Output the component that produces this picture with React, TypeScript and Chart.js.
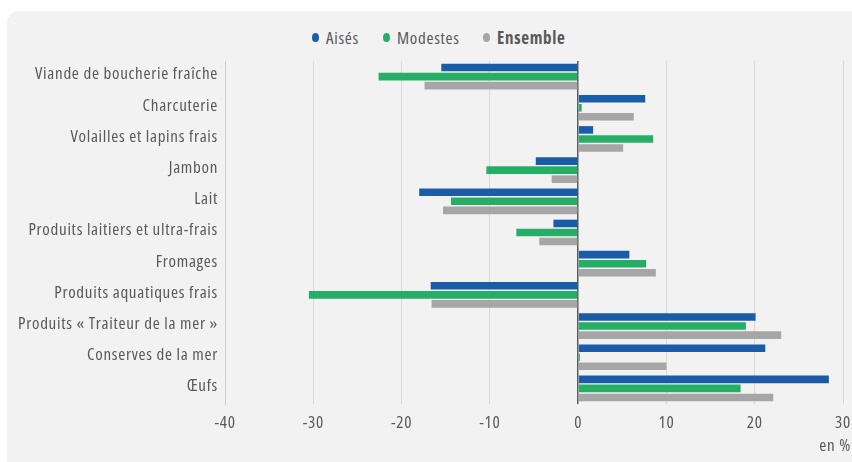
import React, { useEffect, useRef } from "react";
import { Chart, registerables } from "chart.js";

Chart.register(...registerables);

const categories = [
  "Viande de boucherie fraîche",
  "Charcuterie",
  "Volailles et lapins frais",
  "Jambon",
  "Lait",
  "Produits laitiers et ultra-frais",
  "Fromages",
  "Produits aquatiques frais",
  "Produits « Traiteur de la mer »",
  "Conserves de la mer",
  "Œufs",
];
const aises = [-15.5, 7.6, 1.7, -4.8, -18.0, -2.8, 5.8, -16.7, 20.1, 21.2, 28.4];
const modestes = [-22.6, 0.4, 8.5, -10.4, -14.4, -7.0, 7.7, -30.5, 19.0, 0.2, 18.4];
const ensemble = [-17.4, 6.3, 5.1, -3.0, -15.3, -4.4, 8.8, -16.6, 23.0, 10.0, 22.1];
const seriesNames = ["Aisés", "Modestes", "Ensemble"];
const seriesColors = ["#1a5ca8", "#27ae66", "#a6a6a6"];
const xMin = -40;
const xMax = 30;
const xStep = 10;
const unitLabel = "en %";

const FONT = "'Open Sans', sans-serif";
const STRETCH = "condensed";
const SPACING = "0.7px";
const SIZE = 17;
const TEXT = "#595959";

export default function App() {
  const ref = useRef<HTMLCanvasElement | null>(null);

  useEffect(() => {
    if (!ref.current) return;
    const condense = (chart: any) => {
      try {
        (chart.ctx as any).fontStretch = STRETCH;
        (chart.ctx as any).letterSpacing = SPACING;
      } catch (e) {}
    };
    const unitPlugin = {
      id: "unitLabel",
      beforeInit: condense,
      beforeUpdate: condense,
      beforeLayout: condense,
      beforeDraw: condense,
      afterDraw(chart: any) {
        const c = chart.ctx;
        c.save();
        c.font = `${SIZE}px ${FONT}`;
        try {
          (c as any).fontStretch = STRETCH;
          (c as any).letterSpacing = SPACING;
        } catch (e) {}
        c.fillStyle = TEXT;
        c.textAlign = "right";
        c.textBaseline = "middle";
        c.fillText(unitLabel, 851, 446);
        c.restore();
      },
    };
    const chart = new Chart(ref.current, {
      type: "bar",
      data: {
        labels: categories,
        datasets: [aises, modestes, ensemble].map((d, i) => ({
          label: seriesNames[i],
          data: d,
          backgroundColor: seriesColors[i],
          borderWidth: 0,
          categoryPercentage: 0.87,
          barPercentage: 0.84,
        })),
      },
      options: {
        indexAxis: "y",
        animation: false,
        responsive: false,
        layout: { padding: { top: 61, left: 0, right: 0, bottom: 0 } },
        plugins: {
          legend: { display: false },
          tooltip: { enabled: false },
        },
        scales: {
          x: {
            min: xMin,
            max: xMax,
            afterFit: (s: any) => {
              s.height = 58;
              s.paddingRight = 9;
              s.paddingLeft = 0;
            },
            ticks: {
              stepSize: xStep,
              color: TEXT,
              padding: 9,
              font: { family: FONT, size: SIZE },
            },
            grid: {
              drawTicks: false,
              color: (ctx: any) => (ctx.tick && ctx.tick.value === 0 ? "#5a5a5a" : "#d9d9d9"),
              lineWidth: (ctx: any) => (ctx.tick && ctx.tick.value === 0 ? 1.5 : 1),
            },
            border: { display: false },
          },
          y: {
            afterFit: (s: any) => {
              s.width = 225;
            },
            ticks: {
              color: TEXT,
              padding: 7,
              labelOffset: -2,
              font: { family: FONT, size: SIZE },
            },
            grid: { display: false, drawTicks: false },
            border: { display: true, color: "#d0d0d0", width: 1 },
          },
        },
      },
      plugins: [unitPlugin],
    } as any);
    return () => chart.destroy();
  }, []);

  const legendItems = [
    { name: seriesNames[0], color: seriesColors[0], left: 312, bold: false },
    { name: seriesNames[1], color: seriesColors[1], left: 383, bold: false },
    { name: seriesNames[2], color: seriesColors[2], left: 483, bold: true },
  ];

  return (
    <div style={{ position: "absolute", left: 0, top: 0, width: 852, height: 462, background: "#ffffff", overflow: "hidden" }}>
      <div
        style={{
          position: "absolute",
          left: 7,
          top: 11,
          width: 860,
          height: 460,
          background: "#f2f2f2",
          borderTopLeftRadius: 12,
        }}
      />
      <div style={{ position: "absolute", left: 0, top: 26, width: 852, height: 22 }}>
        {legendItems.map((it) => (
          <div
            key={it.name}
            style={{
              position: "absolute",
              left: it.left,
              top: 0,
              display: "flex",
              alignItems: "center",
              height: 22,
              fontFamily: FONT,
              fontStretch: STRETCH,
              letterSpacing: SPACING,
              fontSize: SIZE,
              color: TEXT,
              fontWeight: it.bold ? 700 : 400,
              whiteSpace: "nowrap",
            }}
          >
            <span
              style={{
                display: "inline-block",
                width: 7,
                height: 9,
                borderRadius: "50%",
                background: it.color,
                marginRight: 7,
              }}
            />
            {it.name}
          </div>
        ))}
      </div>
      <canvas ref={ref} width={852} height={462} style={{ position: "absolute", left: 0, top: 0 }} />
    </div>
  );
}
